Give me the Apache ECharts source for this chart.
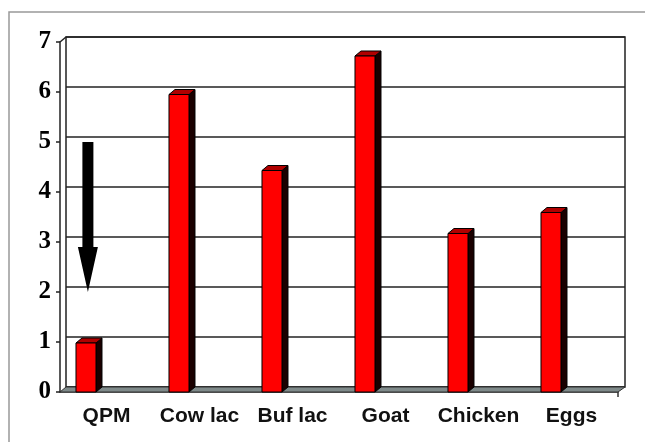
<!DOCTYPE html>
<html>
<head>
<meta charset="utf-8">
<script src="https://cdn.jsdelivr.net/npm/echarts@6/dist/echarts.min.js"></script>
<style>
    html, body { margin: 0; padding: 0; background: #fff; }
    #main { width: 645px; height: 442px; }
</style>
</head>
<body>
<div id="main"></div>
<script>
    var categories = ['QPM', 'Cow lac', 'Buf lac', 'Goat', 'Chicken', 'Eggs'];
    var values = [0.98, 5.95, 4.43, 6.72, 3.17, 3.59];
    var yTicks = [0, 1, 2, 3, 4, 5, 6, 7];
    // arrow over QPM: from 5 down to 2
    var arrowFrom = 5;
    var arrowTo = 2;

    var chart = echarts.init(document.getElementById('main'));

    function renderBar(params, api) {
        var base = api.coord([api.value(0), 0]);
        var top = api.coord([api.value(0), api.value(1)]);
        var band = api.size([1, 0])[0];
        var w = band * 0.215;
        var x0 = base[0] - band * 0.328;
        var dx = 6, dy = 5;
        return {
            type: 'group',
            children: [
                {
                    type: 'polygon',
                    shape: {points: [[x0 + w, top[1]], [x0 + w + dx, top[1] - dy], [x0 + w + dx, base[1] - dy], [x0 + w, base[1]]]},
                    style: {fill: '#1a0000', stroke: '#000', lineWidth: 1}
                },
                {
                    type: 'polygon',
                    shape: {points: [[x0, top[1]], [x0 + dx, top[1] - dy], [x0 + w + dx, top[1] - dy], [x0 + w, top[1]]]},
                    style: {fill: '#b00000', stroke: '#000', lineWidth: 1}
                },
                {
                    type: 'rect',
                    shape: {x: x0, y: top[1], width: w, height: base[1] - top[1]},
                    style: {fill: '#ff0000', stroke: '#000', lineWidth: 1}
                }
            ]
        };
    }

    function renderArrow(params, api) {
        var p1 = api.coord([api.value(0), api.value(1)]);
        var p2 = api.coord([api.value(0), api.value(2)]);
        var band = api.size([1, 0])[0];
        var cx = p1[0] - band * 0.2;
        var sw = 5.5, hw = 10, hh = 45;
        return {
            type: 'polygon',
            shape: {points: [
                [cx - sw, p1[1]], [cx + sw, p1[1]], [cx + sw, p2[1] - hh], [cx + hw, p2[1] - hh],
                [cx, p2[1]], [cx - hw, p2[1] - hh], [cx - sw, p2[1] - hh]
            ]},
            style: {fill: '#000'}
        };
    }

    var option = {
        animation: false,
        backgroundColor: '#fff',
        graphic: [
            {type: 'polyline', shape: {points: [[9, 442], [9, 12], [645, 12]]}, style: {stroke: '#999', lineWidth: 1.5, fill: null}},
            {type: 'polygon', z: 1, shape: {points: [[60, 392], [618, 392], [625, 387], [66, 387]]}, style: {fill: '#7f8a8a', stroke: '#333', lineWidth: 1}},
            {type: 'line', z: 1, shape: {x1: 60, y1: 42, x2: 66, y2: 37}, style: {stroke: '#222', lineWidth: 1.5}},
            {type: 'line', z: 1, shape: {x1: 618, y1: 392, x2: 618, y2: 397}, style: {stroke: '#333', lineWidth: 1.5}}
        ],
        grid: [
            {left: 66, right: 20, top: 37, bottom: 55, show: true, borderColor: '#222', borderWidth: 1.5, backgroundColor: '#fff'},
            {left: 60, right: 27, top: 42, bottom: 50}
        ],
        xAxis: [
            {gridIndex: 0, type: 'category', data: categories, show: false},
            {
                gridIndex: 1, type: 'category', data: categories,
                axisLine: {lineStyle: {color: '#333', width: 1.5}},
                axisTick: {length: 5, lineStyle: {color: '#333', width: 1.5}},
                axisLabel: {
                    margin: 14, color: '#111', fontSize: 21, fontWeight: 'bold',
                    fontFamily: 'Liberation Sans, Arial, sans-serif', interval: 0
                }
            }
        ],
        yAxis: [
            {
                gridIndex: 0, type: 'value', min: 0, max: 7, interval: 1,
                axisLine: {show: false}, axisTick: {show: false}, axisLabel: {show: false},
                splitLine: {lineStyle: {color: '#222', width: 1.5}}
            },
            {
                gridIndex: 1, type: 'value', min: 0, max: 7, interval: 1,
                axisLine: {show: true, lineStyle: {color: '#222', width: 1.5}},
                axisTick: {show: true, length: 4, lineStyle: {color: '#222', width: 1.5}},
                splitLine: {show: false},
                axisLabel: {
                    margin: 9, color: '#000', fontSize: 25, fontWeight: 'bold',
                    fontFamily: 'Liberation Serif, Times New Roman, serif',
                    formatter: function (v) { return yTicks.indexOf(v) >= 0 ? String(v) : ''; }
                }
            }
        ],
        series: [
            {
                type: 'custom', xAxisIndex: 1, yAxisIndex: 1, z: 3,
                renderItem: renderBar,
                encode: {x: 0, y: 1},
                data: values.map(function (v, i) { return [i, v]; })
            },
            {
                type: 'custom', xAxisIndex: 1, yAxisIndex: 1, z: 4,
                renderItem: renderArrow,
                encode: {x: 0, y: [1, 2]},
                data: [[0, arrowFrom, arrowTo]]
            }
        ]
    };

    chart.setOption(option);
</script>
</body>
</html>
